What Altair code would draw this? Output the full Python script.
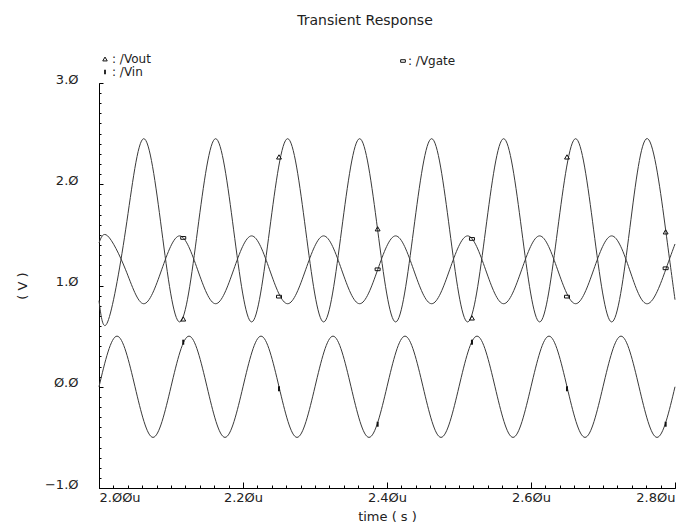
import altair as alt
import pandas as pd

# ---- data (time in microseconds, voltage in V) ----
vin_t = [2.000, 2.025, 2.050, 2.075, 2.100, 2.125, 2.150, 2.175, 2.200, 2.225, 2.250,
         2.275, 2.300, 2.325, 2.350, 2.375, 2.400, 2.425, 2.450, 2.475, 2.500, 2.525,
         2.550, 2.575, 2.600, 2.625, 2.650, 2.675, 2.700, 2.725, 2.750, 2.775, 2.800]
vin_v = [0.0, 0.50, 0.0, -0.50, 0.0, 0.50, 0.0, -0.50, 0.0, 0.50, 0.0,
         -0.50, 0.0, 0.50, 0.0, -0.50, 0.0, 0.50, 0.0, -0.50, 0.0, 0.50,
         0.0, -0.50, 0.0, 0.50, 0.0, -0.50, 0.0, 0.50, 0.0, -0.50, 0.0]

out_t = [2.000, 2.012, 2.037, 2.062, 2.087, 2.112, 2.137, 2.162, 2.187, 2.212, 2.237,
         2.262, 2.287, 2.312, 2.337, 2.362, 2.387, 2.412, 2.437, 2.462, 2.487, 2.512,
         2.537, 2.562, 2.587, 2.612, 2.637, 2.662, 2.687, 2.712, 2.737, 2.762, 2.787, 2.800]
vout_v = [0.85, 0.64, 1.55, 2.45, 1.55, 0.64, 1.55, 2.45, 1.55, 0.64, 1.55,
          2.45, 1.55, 0.64, 1.55, 2.45, 1.55, 0.64, 1.55, 2.45, 1.55, 0.64,
          1.55, 2.45, 1.55, 0.64, 1.55, 2.45, 1.55, 0.64, 1.55, 2.45, 1.55, 0.86]
vgate_v = [1.42, 1.49, 1.155, 0.82, 1.155, 1.49, 1.155, 0.82, 1.155, 1.49, 1.155,
           0.82, 1.155, 1.49, 1.155, 0.82, 1.155, 1.49, 1.155, 0.82, 1.155, 1.49,
           1.155, 0.82, 1.155, 1.49, 1.155, 0.82, 1.155, 1.49, 1.155, 0.82, 1.155, 1.41]

mk_t = [2.117, 2.250, 2.387, 2.518, 2.650, 2.787]
vout_mk = [0.67, 2.27, 1.56, 0.68, 2.27, 1.53]
vgate_mk = [1.47, 0.89, 1.16, 1.46, 0.89, 1.17]
vin_mk = [0.44, -0.02, -0.37, 0.44, -0.02, -0.37]

x_major = [2.0, 2.2, 2.4, 2.6, 2.8]
y_major = [-1.0, 0.0, 1.0, 2.0, 3.0]
x_minor = [round(2.0 + 0.02 * i, 2) for i in range(41)]
y_minor = [round(-1.0 + 0.1 * i, 1) for i in range(41)]

FONT = "DejaVu Sans"
TXT = "#222222"
LINE = "#3a3a3a"
MK = "#111111"
W, H = 576, 405

df_vin = pd.DataFrame({"t": vin_t, "v": vin_v})
df_vout = pd.DataFrame({"t": out_t, "v": vout_v})
df_vgate = pd.DataFrame({"t": out_t, "v": vgate_v})
df_mk = pd.DataFrame({"t": mk_t, "vout": vout_mk, "vgate": vgate_mk, "vin": vin_mk})
one = pd.DataFrame({"k": [0]})

xs = alt.Scale(domain=[2.0, 2.8], nice=False, zero=False)
ys = alt.Scale(domain=[-1.0, 3.0], nice=False, zero=False)

ax_x_main = alt.Axis(
    orient="bottom", values=x_major, grid=False,
    labelExpr="join(split(format(datum.value, '.2f'), '0'), 'Ø') + 'u'",
    ticks=False, tickSize=0, labelPadding=3, labelBaseline="top",
    labelFont=FONT, labelFontSize=13, labelColor=TXT,
    domainColor="#000000", domainWidth=1,
    title="time ( s )", titleFont=FONT, titleFontSize=13, titleFontWeight="normal",
    titleColor=TXT, titleX=W / 2, titleY=28, titleBaseline="middle", titleAlign="center",
)
ax_y_main = alt.Axis(
    orient="left", values=y_major, grid=False,
    labelExpr="join(split(format(datum.value, '.1f'), '0'), 'Ø')",
    ticks=False, tickSize=0, labelPadding=21, labelBaseline="alphabetic",
    labelFont=FONT, labelFontSize=13, labelColor=TXT,
    domainColor="#000000", domainWidth=1,
    title="( V )", titleFont=FONT, titleFontSize=13, titleFontWeight="normal",
    titleColor=TXT, titleAngle=270, titleX=-77, titleY=H / 2,
    titleBaseline="middle", titleAlign="center",
)
ax_x_minor = alt.Axis(orient="top", offset=-H, values=x_minor, labels=False, domain=False,
                      grid=False, ticks=True, tickSize=3, tickColor="#000000", tickWidth=1, title="")
ax_x_major = alt.Axis(orient="top", offset=-H, values=x_major, labels=False, domain=False,
                      grid=False, ticks=True, tickSize=6, tickColor="#000000", tickWidth=1, title="")
ax_y_minor = alt.Axis(orient="right", offset=-W, values=y_minor, labels=False, domain=False,
                      grid=False, ticks=True, tickSize=2, tickColor="#000000", tickWidth=1, title="")
ax_y_major = alt.Axis(orient="right", offset=-W, values=y_major, labels=False, domain=False,
                      grid=False, ticks=True, tickSize=4, tickColor="#000000", tickWidth=1, title="")


def line(df, xa, ya):
    return alt.Chart(df).mark_line(interpolate="natural", stroke=LINE, strokeWidth=1).encode(
        x=alt.X("t:Q", scale=xs, axis=xa),
        y=alt.Y("v:Q", scale=ys, axis=ya),
    )


l_vin = line(df_vin, ax_x_main, ax_y_main)
l_vout = line(df_vout, ax_x_minor, ax_y_minor)
l_vgate = line(df_vgate, ax_x_major, ax_y_major)

RECT_H = "M-1,-0.55H1V0.55H-1Z"
RECT_V = "M-0.4,-1H0.4V1H-0.4Z"

m_vout = alt.Chart(df_mk).mark_point(shape="triangle-up", filled=False, size=24,
                                     stroke=MK, strokeWidth=1, opacity=1).encode(
    x=alt.X("t:Q", scale=xs, axis=None), y=alt.Y("vout:Q", scale=ys, axis=None))
m_vgate = alt.Chart(df_mk).mark_point(shape=RECT_H, filled=False, size=25,
                                      stroke=MK, strokeWidth=1, opacity=1).encode(
    x=alt.X("t:Q", scale=xs, axis=None), y=alt.Y("vgate:Q", scale=ys, axis=None))
m_vin = alt.Chart(df_mk).mark_point(shape=RECT_V, filled=True, size=25,
                                    color=MK, opacity=1).encode(
    x=alt.X("t:Q", scale=xs, axis=None), y=alt.Y("vin:Q", scale=ys, axis=None))


def leg_sym(shape, filled, px, py, size):
    if filled:
        mk = alt.Chart(one).mark_point(shape=shape, filled=True, size=size, color=MK, opacity=1)
    else:
        mk = alt.Chart(one).mark_point(shape=shape, filled=False, size=size,
                                       stroke=MK, strokeWidth=1, opacity=1)
    return mk.encode(x=alt.value(px), y=alt.value(py))


def leg_txt(label, px, py):
    return alt.Chart(one).mark_text(align="left", baseline="middle", font=FONT,
                                    fontSize=12, color=TXT).encode(
        x=alt.value(px), y=alt.value(py), text=alt.value(label))


legend = [
    leg_sym("triangle-up", False, 6, -24, 20), leg_txt(":  /Vout", 13, -24),
    leg_sym(RECT_V, True, 6, -11, 20), leg_txt(":  /Vin", 13, -11),
    leg_sym(RECT_H, False, 304, -22, 22), leg_txt(":  /Vgate", 309, -22),
]

chart = alt.layer(l_vin, l_vout, l_vgate, m_vout, m_vgate, m_vin, *legend).properties(
    width=W, height=H,
    title=alt.Title("Transient Response", font=FONT, fontSize=14, fontWeight="normal",
                    color=TXT, anchor="middle", frame="group", offset=14, dx=-22,
                    baseline="alphabetic"),
    autosize=alt.AutoSizeParams(type="none"),
    padding={"left": 99, "top": 83, "right": 24, "bottom": 38},
    background="white",
).configure_view(strokeWidth=0)

chart.save("out.html", embed_options={"renderer": "svg", "actions": False})
